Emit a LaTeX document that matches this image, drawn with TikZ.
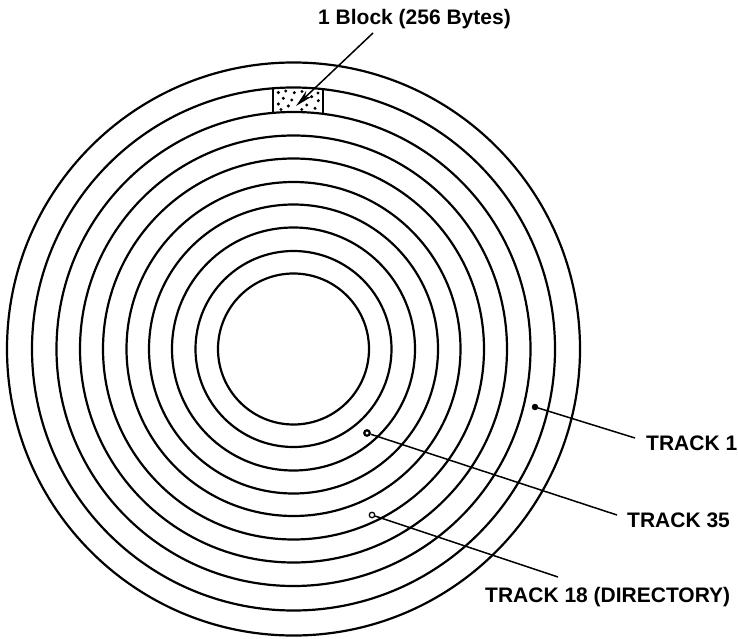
\documentclass[tikz,border=0pt]{standalone}
\usepackage{fontspec}
\setmainfont{Liberation Sans}
\usetikzlibrary{arrows.meta}
\begin{document}
\begin{tikzpicture}[x=1pt,y=-1pt,
  ring/.style={line width=2.2pt},
  leader/.style={line width=1.5pt},
  lbl/.style={font=\bfseries\fontsize{21}{21}\selectfont, inner sep=0pt, anchor=base west},
  fdot/.style={circle, fill=black, draw=black, inner sep=0pt, minimum size=6pt},
  odot/.style={circle, fill=white, draw=black, line width=1.3pt, inner sep=0pt, minimum size=5.5pt}]
\useasboundingbox (0,0) rectangle (738,639);
\coordinate (c) at (293.5,349);
% rings
\foreach \r in {75.5,98,121.5,144.5,167,190.5,213.5,237,261.5,286.5}
  \draw[ring] (c) circle[radius=\r pt];
% block sides (between the r=261.5 and r=237 circles)
\draw[ring] (273,88.3) -- (273,112.9);
\draw[ring] (323,89.2) -- (323,113.8);
\foreach \p in {(278.3,92.5),(285.7,91),(294.3,92.7),(283.3,98.3),(291.7,100),(278.3,104),(288.3,106),(281,109.5),(311.7,96.7),(318.3,100.7),(306.7,105),(315,108.3),(301.7,109.5),(318,93),(302,91.5)}
  \fill \p circle[radius=1.7pt];
% block label and arrow
\node[lbl] (blk) at (318,25) {1 Block (256 Bytes)};
\coordinate (blkfrom) at (373,33);
\coordinate (blkto) at (296,106);
\draw[leader,-{Stealth[length=18pt,width=8pt]}] (blkfrom) -- (blkto);
% track labels
\node[lbl] (t1) at (646,450) {TRACK 1};
\node[lbl] (t35) at (627,527) {TRACK 35};
\node[lbl] (t18) at (485,602) {TRACK 18 (DIRECTORY)};
\coordinate (e1) at (635,438);
\coordinate (e35) at (617,515);
\coordinate (e18) at (558,577);
\node[fdot] (d1) at (535,407) {};
\node[odot, minimum size=5.5pt, line width=2.2pt] (d35) at (367,433) {};
\node[odot] (d18) at (372,515) {};
\draw[leader] (d1) -- (e1);
\draw[leader] (d35) -- (e35);
\draw[leader] (d18) -- (e18);
\end{tikzpicture}
\end{document}
